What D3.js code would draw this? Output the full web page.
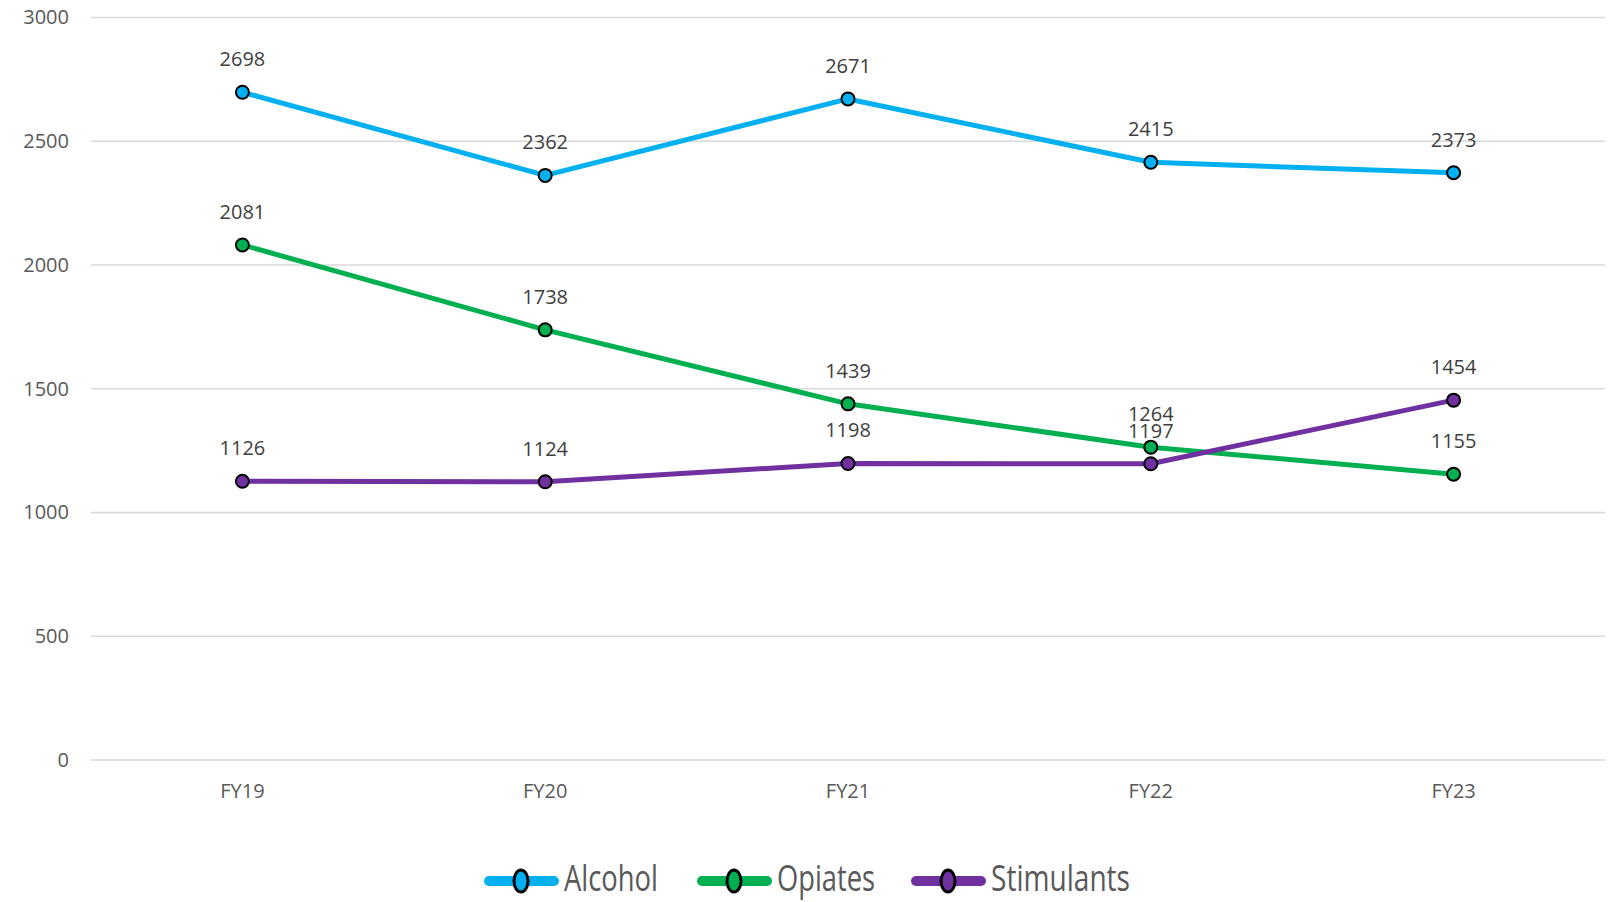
<!DOCTYPE html>
<html>
<head>
<meta charset="utf-8">
<script src="https://cdn.jsdelivr.net/npm/d3@7"></script>
<style>
  body { margin: 0; background: #fff; }
  svg { display: block; font-family: "Open Sans", sans-serif; }
</style>
</head>
<body>
<svg id="chart" width="1616" height="902"></svg>
<script>
// values
const years = ["FY19", "FY20", "FY21", "FY22", "FY23"];
const alcohol = [2698, 2362, 2671, 2415, 2373];
const opiates = [2081, 1738, 1439, 1264, 1155];
const stimulants = [1126, 1124, 1198, 1197, 1454];
const yTicks = [0, 500, 1000, 1500, 2000, 2500, 3000];

const series = [
  {name: "Alcohol", color: "#00B0F0", values: alcohol, legendW: 94},
  {name: "Opiates", color: "#00B050", values: opiates, legendW: 98},
  {name: "Stimulants", color: "#7030A0", values: stimulants, legendW: 139}
];

const width = 1616, height = 902;
const margin = {top: 17.5, right: 11, bottom: 142, left: 91};

const svg = d3.select("#chart");

// x = f(category)
const x = d3.scaleBand()
  .domain(years)
  .range([margin.left, width - margin.right]);

// y = f(n)
const y = d3.scaleLinear()
  .domain([0, 3000])
  .range([height - margin.bottom, margin.top]);

// gridlines
svg.append("g")
  .selectAll("line")
  .data(yTicks)
  .join("line")
    .attr("x1", margin.left)
    .attr("x2", width - margin.right)
    .attr("y1", d => y(d))
    .attr("y2", d => y(d))
    .attr("stroke", "#d9d9d9")
    .attr("stroke-width", 1.5);

// y axis labels
const yAxis = g => g
  .attr("transform", `translate(${margin.left - 22},0)`)
  .call(d3.axisLeft(y).tickValues(yTicks).tickFormat(d3.format("d")).tickSize(0).tickPadding(0))
  .call(g => g.select(".domain").remove())
  .call(g => g.selectAll("text")
    .attr("fill", "#595959")
    .attr("font-size", 20)
    .attr("font-family", "Open Sans, sans-serif"));
svg.append("g").call(yAxis);

// x axis labels
const xAxis = g => g
  .attr("transform", `translate(0,${height - margin.bottom})`)
  .call(d3.axisBottom(x).tickSize(0).tickPadding(24))
  .call(g => g.select(".domain").remove())
  .call(g => g.selectAll("text")
    .attr("fill", "#595959")
    .attr("font-size", 20)
    .attr("font-family", "Open Sans, sans-serif"));
svg.append("g").call(xAxis);

const cx = d => x(d) + x.bandwidth() / 2;

const line = d3.line()
  .x((d, i) => cx(years[i]))
  .y(d => y(d));

series.forEach(s => {
  svg.append("path")
    .datum(s.values)
    .attr("fill", "none")
    .attr("stroke", s.color)
    .attr("stroke-width", 5)
    .attr("stroke-linejoin", "round")
    .attr("d", line);
});

series.forEach(s => {
  svg.append("g")
    .selectAll("circle")
    .data(s.values)
    .join("circle")
      .attr("cx", (d, i) => cx(years[i]))
      .attr("cy", d => y(d))
      .attr("r", 6.5)
      .attr("fill", s.color)
      .attr("stroke", "#000")
      .attr("stroke-width", 2);
});

series.forEach(s => {
  svg.append("g")
    .selectAll("text")
    .data(s.values)
    .join("text")
      .attr("x", (d, i) => cx(years[i]))
      .attr("y", d => y(d) - 26)
      .attr("text-anchor", "middle")
      .attr("fill", "#404040")
      .attr("font-size", 20)
      .text(d => d);
});

// legend
const legendX = [484, 697, 911];
const legendY = 881;
const legend = svg.append("g");
series.forEach((s, i) => {
  const g = legend.append("g").attr("transform", `translate(${legendX[i]},${legendY})`);
  g.append("line")
    .attr("x1", 5).attr("x2", 70)
    .attr("y1", 0).attr("y2", 0)
    .attr("stroke", s.color)
    .attr("stroke-width", 10)
    .attr("stroke-linecap", "round");
  g.append("ellipse")
    .attr("cx", 37).attr("cy", 0)
    .attr("rx", 7).attr("ry", 11)
    .attr("fill", s.color)
    .attr("stroke", "#000")
    .attr("stroke-width", 3);
  g.append("text")
    .attr("x", 80)
    .attr("y", 10)
    .attr("fill", "#595959")
    .attr("font-size", 36)
    .attr("textLength", s.legendW)
    .attr("lengthAdjust", "spacingAndGlyphs")
    .text(s.name);
});
</script>
</body>
</html>
